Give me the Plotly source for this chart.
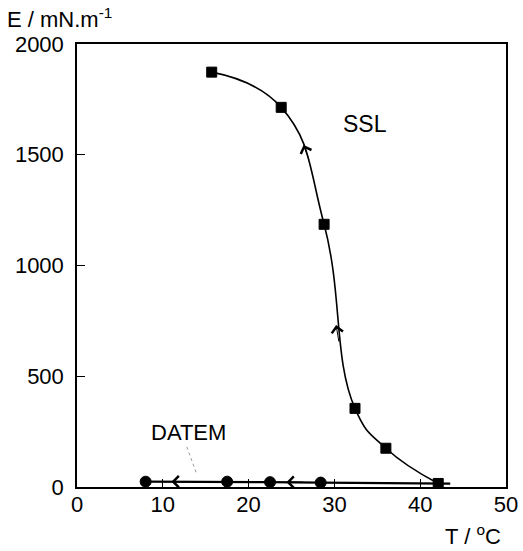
import plotly.graph_objects as go

# Elastic modulus E (mN/m) versus temperature T (°C)
ssl_T = [15.7, 23.8, 28.8, 32.4, 36.0, 42.1]
ssl_E = [1873, 1714, 1186, 355, 175, 16]

datem_T = [8.0, 17.5, 22.5, 28.4]
datem_E = [24, 24, 22, 20]
# the DATEM trace line runs on past the last measured point
datem_line_T = datem_T + [43.5]
datem_line_E = datem_E + [15]

x_ticks = [0, 10, 20, 30, 40, 50]
y_ticks = [0, 500, 1000, 1500, 2000]

# direction arrows along the curves: (T, E, tail dx px, tail dy px)
ssl_arrows = [(26.4, 1544, 6, 16), (30.2, 731, 3, 18)]
datem_arrows = [(11.0, 24, 18, 0), (24.4, 22, 18, 0)]

FONT = "Liberation Sans, Arial, sans-serif"
FS = 22

fig = go.Figure()

fig.add_trace(go.Scatter(
    x=datem_line_T, y=datem_line_E, mode="lines",
    line=dict(color="black", width=2.2),
    showlegend=False, cliponaxis=False,
))
fig.add_trace(go.Scatter(
    x=datem_T, y=datem_E, mode="markers",
    marker=dict(symbol="circle", size=11, color="black",
                line=dict(color="black", width=1)),
    showlegend=False, cliponaxis=False,
))

fig.add_trace(go.Scatter(
    x=ssl_T, y=ssl_E, mode="lines+markers",
    line=dict(color="black", width=1.6, shape="spline", smoothing=1.3),
    marker=dict(symbol="square", size=10, color="black",
                line=dict(color="black", width=1)),
    showlegend=False, cliponaxis=False,
))

annotations = []
for t, e, dx, dy in ssl_arrows + datem_arrows:
    annotations.append(dict(
        x=t, y=e, xref="x", yref="y", ax=dx, ay=dy,
        showarrow=True, arrowhead=4, arrowsize=2.2, arrowwidth=1.0,
        arrowcolor="black", text="",
    ))

annotations += [
    dict(x=341, y=124, xref="paper", yref="paper", text="SSL",
         showarrow=False, xanchor="left", yanchor="middle",
         font=dict(family=FONT, size=FS + 1, color="black")),
    dict(x=149, y=432, xref="paper", yref="paper", text="DATEM",
         showarrow=False, xanchor="left", yanchor="middle",
         font=dict(family=FONT, size=FS, color="black")),
    dict(x=5, y=18, xref="paper", yref="paper", text="E / mN.m<sup>-1</sup>",
         showarrow=False, xanchor="left", yanchor="middle",
         font=dict(family=FONT, size=FS, color="black")),
    dict(x=443, y=535, xref="paper", yref="paper", text="T / <sup>o</sup>C",
         showarrow=False, xanchor="left", yanchor="middle",
         font=dict(family=FONT, size=FS, color="black")),
]

# convert pixel placement of free text into paper coordinates
W, H = 523, 551
L, R, T, B = 77, 17, 44, 64
pw, ph = W - L - R, H - T - B
for a in annotations:
    if a.get("xref") == "paper":
        a["x"] = (a["x"] - L) / pw
        a["y"] = 1 - (a["y"] - T) / ph

fig.add_shape(type="line", x0=12.8, y0=181, x1=14.0, y1=54,
              xref="x", yref="y",
              line=dict(color="#999999", width=1, dash="dot"))

axis_common = dict(
    showgrid=False, zeroline=False, showline=True, linecolor="black",
    linewidth=1.5, mirror=True, ticks="inside", ticklen=8, tickwidth=1.2,
    tickcolor="black", tickfont=dict(family=FONT, size=FS, color="black"),
    automargin=False,
)

fig.update_layout(
    width=W, height=H, margin=dict(l=L, r=R, t=T, b=B),
    paper_bgcolor="white", plot_bgcolor="white",
    xaxis=dict(range=[0, 50], tickvals=x_ticks, ticklabelstandoff=-3,
               **axis_common),
    yaxis=dict(range=[0, 2000], tickvals=y_ticks, ticklabelstandoff=7,
               **axis_common),
    annotations=annotations,
)

fig.write_html("out.html")
